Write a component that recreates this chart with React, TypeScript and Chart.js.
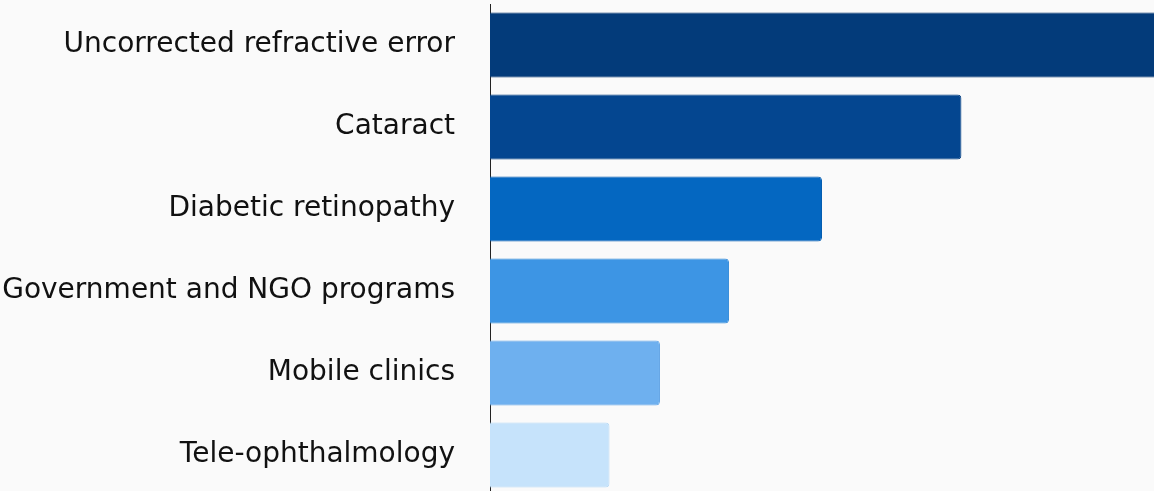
import React, { useEffect, useRef } from "react";
import { Chart, registerables } from "chart.js";

Chart.register(...registerables);

const categories = [
  "Uncorrected refractive error",
  "Cataract",
  "Diabetic retinopathy",
  "Government and NGO programs",
  "Mobile clinics",
  "Tele-ophthalmology",
];
const values = [105, 71, 50, 36, 25.6, 18];
const barColors = ["#033b7a", "#044690", "#0467c1", "#3d95e4", "#6eb0ef", "#c6e3fb"];
const borderColors = ["#02336c", "#033e80", "#045db0", "#358bd8", "#64a6e6", "#b8daf5"];
const axisMax = 100;

export default function App() {
  const ref = useRef<HTMLCanvasElement | null>(null);
  useEffect(() => {
    document.body.style.margin = "0";
    document.body.style.background = "#fafafa";
    document.documentElement.style.overflow = "hidden";
    const chart = new Chart(ref.current as HTMLCanvasElement, {
      type: "bar",
      data: {
        labels: categories,
        datasets: [
          {
            data: values,
            backgroundColor: barColors,
            borderColor: borderColors,
            borderWidth: 1,
            borderSkipped: "start",
            borderRadius: 4,
            barPercentage: 0.79,
            categoryPercentage: 1,
          },
        ],
      },
      options: {
        indexAxis: "y",
        animation: false,
        responsive: false,
        maintainAspectRatio: false,
        layout: { padding: { top: 4, bottom: 4, left: 0, right: 0 } },
        plugins: { legend: { display: false }, tooltip: { enabled: false } },
        scales: {
          x: { display: false, min: 0, max: axisMax },
          y: {
            grid: { display: false, drawTicks: false },
            border: { display: true, color: "#222", width: 1 },
            ticks: {
              color: "#111",
              padding: 35,
              font: { family: "DejaVu Sans", size: 28 },
            },
            afterFit: (scale: any) => {
              scale.width = 490;
              scale.paddingTop = 0;
              scale.paddingBottom = 0;
            },
          },
        },
      },
    });
    return () => chart.destroy();
  }, []);
  return (
    <div style={{ width: 1154, height: 500, background: "#fafafa" }}>
      <canvas ref={ref} width={1154} height={500} />
    </div>
  );
}
